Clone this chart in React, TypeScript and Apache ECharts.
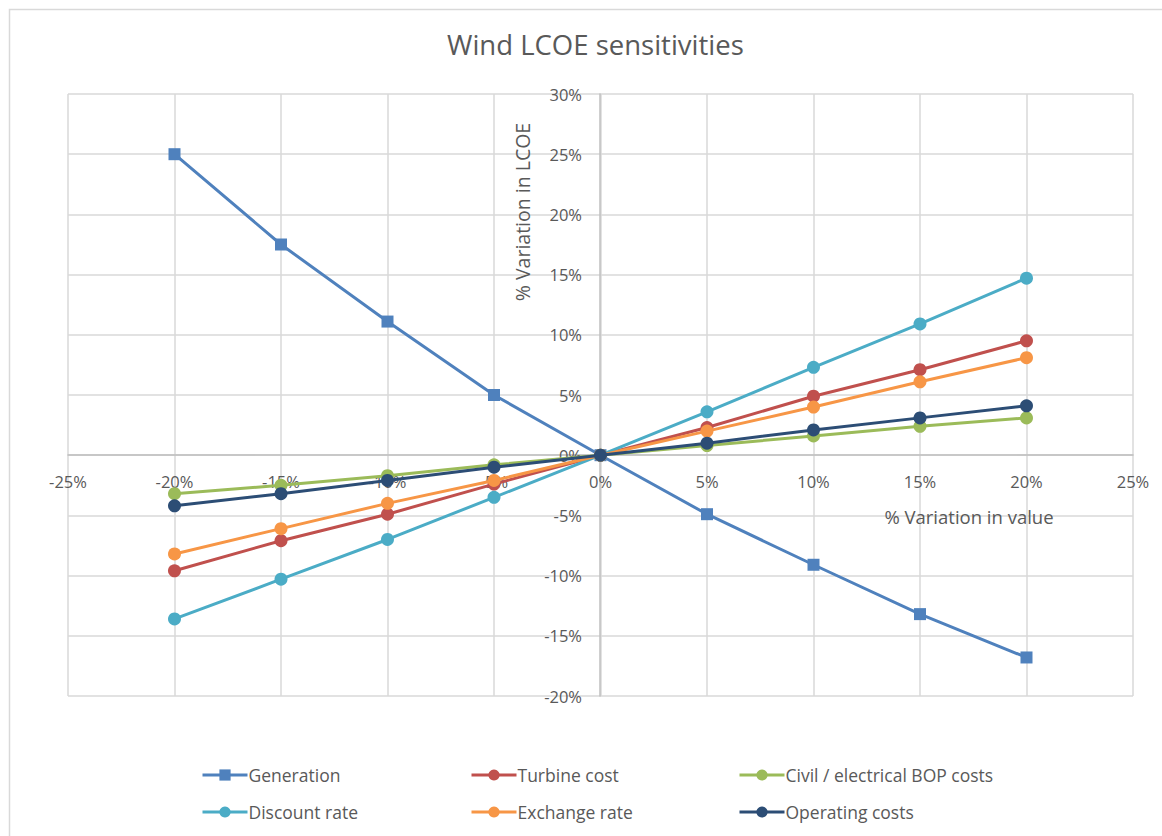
import React, { useEffect, useRef } from "react";
import * as echarts from "echarts";

const xValues = [-20, -15, -10, -5, 0, 5, 10, 15, 20];
const generation = [25.0, 17.5, 11.1, 5.0, 0, -4.9, -9.1, -13.2, -16.8];
const turbineCost = [-9.6, -7.1, -4.9, -2.4, 0, 2.3, 4.9, 7.1, 9.5];
const civilBop = [-3.2, -2.5, -1.7, -0.8, 0, 0.8, 1.6, 2.4, 3.1];
const discountRate = [-13.6, -10.3, -7.0, -3.5, 0, 3.6, 7.3, 10.9, 14.7];
const exchangeRate = [-8.2, -6.1, -4.0, -2.1, 0, 2.0, 4.0, 6.1, 8.1];
const operatingCosts = [-4.2, -3.2, -2.1, -1.0, 0, 1.0, 2.1, 3.1, 4.1];

const seriesNames = [
  "Generation",
  "Turbine cost",
  "Civil / electrical BOP costs",
  "Discount rate",
  "Exchange rate",
  "Operating costs",
];
const seriesValues = [generation, turbineCost, civilBop, discountRate, exchangeRate, operatingCosts];
const seriesColors = ["#4f81bd", "#c0504d", "#9bbb59", "#4bacc6", "#f79646", "#2c4d75"];
const seriesSymbols = ["rect", "circle", "circle", "circle", "circle", "circle"];

const FONT = "'Open Sans', 'Noto Sans', sans-serif";
const TEXT = "#595959";

export default function App() {
  const ref = useRef<HTMLDivElement>(null);
  useEffect(() => {
    if (!ref.current) return;
    const chart = echarts.init(ref.current, undefined, { renderer: "svg" });
    const series = seriesNames.map((name, i) => ({
      name,
      type: "line",
      data: xValues.map((x, j) => [x, seriesValues[i][j]]),
      symbol: seriesSymbols[i],
      symbolSize: i === 0 ? 12 : 13,
      showSymbol: true,
      lineStyle: { color: seriesColors[i], width: 3 },
      itemStyle: { color: seriesColors[i] },
      z: 3 + i,
    }));
    const legendCommon = {
      orient: "vertical",
      top: 761,
      itemWidth: 45,
      itemHeight: 14,
      itemGap: 19,
      lineStyle: { width: 3 },
      textStyle: { fontFamily: FONT, fontSize: 17.5, color: TEXT, padding: [0, 0, 0, -4] },
    };
    chart.setOption({
      animation: false,
      textStyle: { fontFamily: FONT },
      title: {
        text: "Wind LCOE sensitivities",
        left: 442,
        top: 25,
        textStyle: { fontFamily: FONT, fontSize: 27.5, fontWeight: "normal", color: TEXT },
      },
      legend: [
        { ...legendCommon, left: 196, data: [seriesNames[0], seriesNames[3]] },
        { ...legendCommon, left: 465, data: [seriesNames[1], seriesNames[4]] },
        { ...legendCommon, left: 733, data: [seriesNames[2], seriesNames[5]] },
      ],
      grid: { left: 68, right: 29, top: 94, bottom: 140, containLabel: false },
      xAxis: {
        type: "value",
        min: -25,
        max: 25,
        interval: 5,
        position: "bottom",
        offset: -241,
        axisLine: { onZero: false, lineStyle: { color: "#bfbfbf", width: 1.5 } },
        axisTick: { show: false },
        axisLabel: {
          formatter: "{value}%",
          fontFamily: FONT,
          fontSize: 16.5,
          color: TEXT,
          margin: 18,
          showMinLabel: true,
          showMaxLabel: true,
        },
        splitLine: { show: true, lineStyle: { color: "#d9d9d9", width: 1.5 } },
        z: 2,
      },
      yAxis: {
        type: "value",
        min: -20,
        max: 30,
        interval: 5,
        position: "left",
        offset: -532,
        axisLine: { show: true, onZero: false, lineStyle: { color: "#bfbfbf", width: 1.5 } },
        axisTick: { show: false },
        axisLabel: {
          formatter: "{value}%",
          fontFamily: FONT,
          fontSize: 16.5,
          color: TEXT,
          margin: 18,
          showMinLabel: true,
          showMaxLabel: true,
        },
        splitLine: { show: true, lineStyle: { color: "#d9d9d9", width: 1.5 } },
        z: 2,
      },
      graphic: [
        {
          type: "rect",
          shape: { x: 9.5, y: 9.5, width: 1200, height: 900 },
          style: { fill: "none", stroke: "#d9d9d9", lineWidth: 1.5 },
          silent: true,
          z: -10,
        },
        {
          type: "text",
          x: 522,
          y: 212,
          rotation: Math.PI / 2,
          style: {
            text: "% Variation in LCOE",
            fontFamily: FONT,
            fontSize: 19.5,
            fill: TEXT,
            align: "center",
            verticalAlign: "middle",
          },
          z: 20,
        },
        {
          type: "text",
          x: 969,
          y: 516,
          style: {
            text: "% Variation in value",
            fontFamily: FONT,
            fontSize: 18.5,
            fill: TEXT,
            align: "center",
            verticalAlign: "middle",
          },
          z: 20,
        },
      ],
      series,
    });
    return () => chart.dispose();
  }, []);
  return (
    <div
      ref={ref}
      style={{ position: "absolute", left: 0, top: 0, width: 1162, height: 836, background: "#fff" }}
    />
  );
}
